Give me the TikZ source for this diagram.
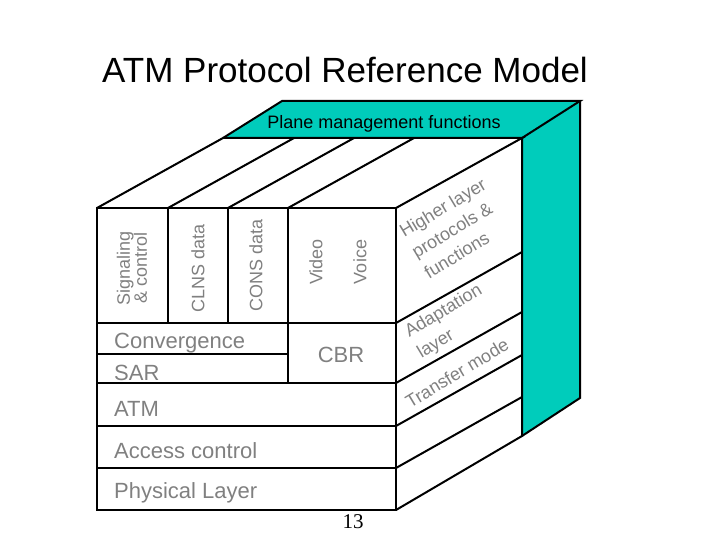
\documentclass[tikz,border=0pt]{standalone}
\usepackage{fontspec}
\setmainfont{Liberation Sans}
\usetikzlibrary{positioning}
\definecolor{planecyan}{RGB}{0,204,187}
\definecolor{labelgray}{RGB}{128,128,128}
\tikzset{
  edge/.style = {line width=2pt, black},
  layer/.style = {font=\fontsize{22}{24}\selectfont, text=labelgray, anchor=west, inner sep=0pt},
  column/.style = {font=\fontsize{18}{19}\selectfont, text=labelgray, rotate=90, align=center},
  side/.style = {font=\fontsize{18}{24}\selectfont, text=labelgray, rotate=31, align=left},
}
\begin{document}
\begin{tikzpicture}[x=1pt, y=-1pt]
  \useasboundingbox (0,0) rectangle (720,540);
  % plane management panel
  \fill[planecyan] (223,138) -- (282,101) -- (580,101) -- (522,138) -- cycle;
  \fill[planecyan] (522,138) -- (580,101) -- (580,398) -- (522,436) -- cycle;
  \draw[edge] (223,138) -- (282,101) -- (580,101) -- (522,138);
  \draw[edge] (580,101) -- (580,398) -- (522,436);
  \node (plane) at (384,124) {\fontsize{18}{19}\selectfont Plane management functions};
  % front face and depth
  \draw[edge] (97,208) rectangle (396,510);
  \draw[edge] (97,208) -- (223,138) -- (522,138) -- (396,208);
  \draw[edge] (522,138) -- (522,436) -- (396,510);
  \foreach \x in {168,228,288} \draw[edge] (\x,208) -- ++(126,-70);
  \foreach \x in {168,228} \draw[edge] (\x,208) -- (\x,323);
  \draw[edge] (288,208) -- (288,383);
  \draw[edge] (97,354) -- (288,354);
  \foreach \y in {323,383,426,468} {
    \draw[edge] (97,\y) -- (396,\y);
    \draw[edge] (396,\y) -- ++(126,-71);
  }
  % column labels
  \node[column] (sig) at (132,268) {Signaling\\[-2pt]\& control};
  \node[column] (clns) at (198,268) {CLNS data};
  \node[column] (cons) at (256,265) {CONS data};
  \node[column] (video) at (316,262) {Video};
  \node[column] (voice) at (360,262) {Voice};
  % layer labels
  \node[layer] (conv) at (114,343) {Convergence};
  \node[layer] (sar) at (114,373) {SAR};
  \node[layer, anchor=center] (cbr) at (341,355) {CBR};
  \node[layer] (atm) at (114,409) {ATM};
  \node[layer] (access) at (114,451) {Access control};
  \node[layer] (phys) at (114,493) {Physical Layer};
  % side labels
  \node[side] (higher) at (455,228) {Higher layer\\protocols \&\\functions};
  \node[side] (adapt) at (450,322) {Adaptation\\layer};
  \node[side] (transfer) at (457,373) {Transfer mode};
  % title and page number
  \node (title) at (345,70) {\fontsize{35}{38}\selectfont ATM Protocol Reference Model};
  \node (page) at (353,522) {\fontspec{Liberation Serif}\fontsize{21}{22}\selectfont 13};
\end{tikzpicture}
\end{document}
